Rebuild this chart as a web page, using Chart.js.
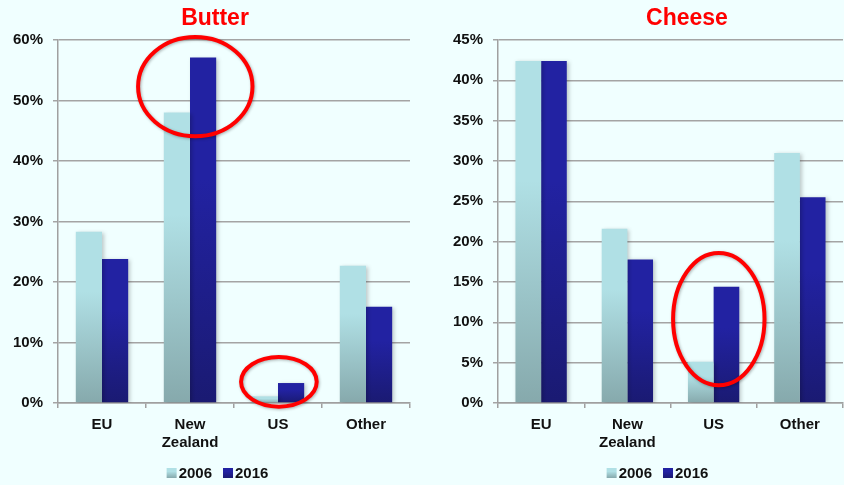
<!DOCTYPE html>
<html>
<head>
<meta charset="utf-8">
<script src="https://cdn.jsdelivr.net/npm/chart.js@4.4.1/dist/chart.umd.min.js"></script>
<style>
  html, body { margin: 0; padding: 0; background: #f0ffff; overflow: hidden; }
  body { width: 844px; height: 485px; position: relative; }
  .panel { position: absolute; top: 0; width: 435px; height: 485px; }
</style>
</head>
<body>
<div class="panel" style="left:0px"><canvas id="butter"></canvas></div>
<div class="panel" style="left:440px"><canvas id="cheese"></canvas></div>
<script>
// categories and series
var regions = ['EU', ['New', 'Zealand'], 'US', 'Other'];
var years = ['2006', '2016'];

var butter2006 = [28.3, 48.0, 1.1, 22.7];
var butter2016 = [23.8, 57.1, 3.3, 15.9];

var cheese2006 = [42.4, 21.6, 5.1, 31.0];
var cheese2016 = [42.4, 17.8, 14.4, 25.5];

// highlight rings: category index, value, half width (in categories), half height (in %)
var butterRings = [
    { cat: 1.06, val: 52.3, rx: 0.65, ry: 8.2 },
    { cat: 2.01, val: 3.5, rx: 0.43, ry: 4.1 }
];
var cheeseRings = [
    { cat: 2.06, val: 10.4, rx: 0.53, ry: 8.2 }
];

var lightTop = '#b0e0e5', lightBottom = '#86a9ac';
var darkTop = '#2222a2', darkBottom = '#1a1a72';
var fontFamily = '"Liberation Sans", Arial, sans-serif';

function vGradient(ctx, y1, y0, top, bottom) {
    var g = ctx.createLinearGradient(0, y1, 0, y0);
    g.addColorStop(0, top);
    g.addColorStop(0.35, top);
    g.addColorStop(1, bottom);
    return g;
}

function barFill(top, bottom) {
    return function (c) {
        var chart = c.chart;
        if (!chart.chartArea || !chart.scales.y || c.raw === undefined) return top;
        var y = chart.scales.y;
        var y0 = y.getPixelForValue(0), y1 = y.getPixelForValue(c.raw);
        if (!isFinite(y1) || y0 === y1) return top;
        return vGradient(chart.ctx, y1, y0, top, bottom);
    };
}

var ringPlugin = {
    id: 'rings',
    beforeDatasetsDraw: function (chart) {
        chart.ctx.save();
        chart.ctx.shadowColor = 'rgba(0,0,0,0.22)';
        chart.ctx.shadowBlur = 4;
        chart.ctx.shadowOffsetX = 2;
        chart.ctx.shadowOffsetY = 1;
    },
    afterDatasetsDraw: function (chart, args, opts) {
        var ctx = chart.ctx;
        ctx.restore();
        var x = chart.scales.x, y = chart.scales.y;
        var step = x.getPixelForValue(1) - x.getPixelForValue(0);
        ctx.save();
        ctx.strokeStyle = '#ff0000';
        ctx.lineWidth = 4;
        ctx.shadowColor = 'rgba(0,0,0,0.3)';
        ctx.shadowBlur = 3;
        ctx.shadowOffsetX = 1;
        ctx.shadowOffsetY = 1;
        (opts.rings || []).forEach(function (r) {
            var cx = x.getPixelForValue(0) + r.cat * step;
            var cy = y.getPixelForValue(r.val);
            var ry = Math.abs(y.getPixelForValue(r.val + r.ry) - cy);
            ctx.beginPath();
            ctx.ellipse(cx, cy, r.rx * step, ry, 0, 0, Math.PI * 2);
            ctx.stroke();
        });
        ctx.restore();
    }
};

// title on top and a small legend at the bottom
var headPlugin = {
    id: 'head',
    afterDraw: function (chart, args, opts) {
        var ctx = chart.ctx;
        ctx.save();
        ctx.font = 'bold 23px ' + fontFamily;
        ctx.fillStyle = '#ff0000';
        ctx.textAlign = 'center';
        ctx.textBaseline = 'middle';
        ctx.fillText(opts.text, opts.x, opts.y);

        ctx.font = 'bold 15px ' + fontFamily;
        ctx.textAlign = 'left';
        var box = 10, gap = 2, between = 11;
        var items = [
            { text: years[0], top: lightTop, bottom: lightBottom },
            { text: years[1], top: darkTop, bottom: darkBottom }
        ];
        var total = 0;
        items.forEach(function (it, i) {
            it.w = ctx.measureText(it.text).width;
            total += box + gap + it.w + (i > 0 ? between : 0);
        });
        var lx = opts.legendX - total / 2, ly = opts.legendY;
        items.forEach(function (it) {
            ctx.fillStyle = vGradient(ctx, ly - box / 2, ly + box / 2, it.top, it.bottom);
            ctx.fillRect(lx, ly - box / 2, box, box);
            ctx.fillStyle = '#111';
            ctx.fillText(it.text, lx + box + gap, ly + 1);
            lx += box + gap + it.w + between;
        });
        ctx.restore();
    }
};

function makeChart(id, title, titleX, a, b, max, step, rings, padRight) {
    var font = { family: fontFamily, weight: 'bold', size: 15 };
    return new Chart(document.getElementById(id), {
        type: 'bar',
        data: {
            labels: regions,
            datasets: [
                { label: years[0], data: a, backgroundColor: barFill(lightTop, lightBottom) },
                { label: years[1], data: b, backgroundColor: barFill(darkTop, darkBottom) }
            ]
        },
        options: {
            responsive: false,
            animation: false,
            layout: { padding: { top: 40, right: padRight, left: 0, bottom: 32 } },
            datasets: { bar: { categoryPercentage: 0.595, barPercentage: 1.0 } },
            scales: {
                x: {
                    grid: { display: true, offset: true, drawOnChartArea: false, drawTicks: true, tickLength: 5, color: '#a0a0a0', lineWidth: 1.5 },
                    border: { color: '#a0a0a0', width: 1.5 },
                    ticks: { color: '#111', font: font, padding: 8, maxRotation: 0 },
                    afterFit: function (s) { s.height = 50; }
                },
                y: {
                    min: 0,
                    max: max,
                    grid: { color: '#a4a4a4', lineWidth: 1.5, tickLength: 5 },
                    border: { color: '#a0a0a0', width: 1.5 },
                    ticks: { stepSize: step, color: '#111', font: font, padding: 10,
                        callback: function (v) { return v + '%'; } },
                    afterFit: function (s) { s.width = 58; }
                }
            },
            plugins: {
                legend: { display: false },
                tooltip: { enabled: false },
                rings: { rings: rings },
                head: { text: title, x: titleX, y: 19, legendX: 217.5, legendY: 473 }
            }
        },
        plugins: [ringPlugin, headPlugin]
    });
}

document.getElementById('butter').width = 435;
document.getElementById('butter').height = 485;
document.getElementById('cheese').width = 435;
document.getElementById('cheese').height = 485;

makeChart('butter', 'Butter', 215, butter2006, butter2016, 60, 10, butterRings, 25);
makeChart('cheese', 'Cheese', 247, cheese2006, cheese2016, 45, 5, cheeseRings, 32);
</script>
</body>
</html>
